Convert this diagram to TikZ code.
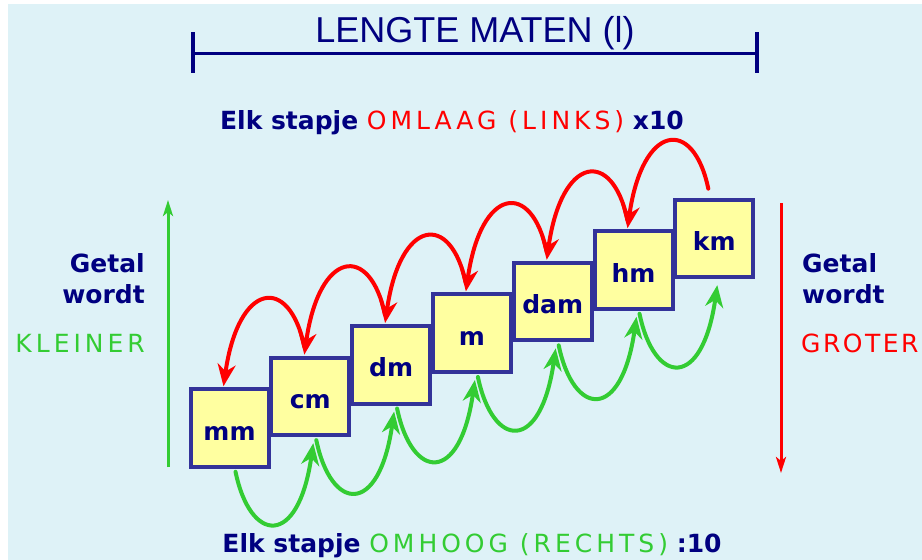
\documentclass[tikz,border=0pt]{standalone}
\usepackage{fontspec}
\setmainfont{DejaVu Sans}
\newfontfamily\spacedfont{DejaVu Sans}[LetterSpace=16]
\newfontfamily\narrowspaced{DejaVu Sans}[LetterSpace=10]
\newfontfamily\titlefont{Liberation Sans}
\usetikzlibrary{arrows.meta,calc}
\definecolor{bgblue}{HTML}{DEF2F7}
\definecolor{boxfill}{HTML}{FFFFA0}
\definecolor{boxline}{HTML}{333399}
\definecolor{navy}{HTML}{000080}
\definecolor{myred}{HTML}{FF0000}
\definecolor{mygreen}{HTML}{33CC33}
\begin{document}
\begin{tikzpicture}[x=1pt,y=-1pt,
  unitbox/.style={draw=boxline, line width=4pt, fill=boxfill, minimum width=78pt,
    minimum height=77.5pt, inner sep=0pt, text=navy,
    font=\fontsize{25}{25}\selectfont\bfseries, text height=24pt, text depth=0pt},
  redarr/.style={draw=myred, line width=4pt, line cap=round,
    -{Stealth[length=22pt,width=18pt,inset=7pt]}},
  greenarr/.style={draw=mygreen, line width=4pt, line cap=round,
    -{Stealth[length=22pt,width=18pt,inset=7pt]}},
  vred/.style={draw=myred, line width=3pt, -{Stealth[length=16pt,width=10pt,inset=4pt]}},
  vgreen/.style={draw=mygreen, line width=3pt, -{Stealth[length=16pt,width=10pt,inset=4pt]}},
  dimline/.style={draw=navy, line width=3pt},
  dimtick/.style={draw=navy, line width=4pt},
  bluetxt/.style={text=navy, font=\fontsize{25}{25}\selectfont\bfseries, inner sep=0pt},
  titletxt/.style={text=navy, font=\fontsize{36}{36}\selectfont\titlefont, inner sep=0pt},
  linetxt/.style={font=\fontsize{25}{25}\selectfont, inner sep=0pt}
]
\useasboundingbox (0,0) rectangle (922,560);
\fill[white] (0,0) rectangle (922,560);
\fill[bgblue] (8,4) rectangle (922,560);

% title with dimension line
\node[titletxt, anchor=base] (title) at (475,42) {LENGTE MATEN (l)};
\coordinate (dl) at (193,53);
\coordinate (dr) at (757,53);
\coordinate (dlt) at (193,32);
\coordinate (dlb) at (193,73);
\coordinate (drt) at (757,32);
\coordinate (drb) at (757,73);
\draw[dimline] (dl) -- (dr);
\draw[dimtick] (dlt) -- (dlb);
\draw[dimtick] (drt) -- (drb);

% top and bottom lines
\node[linetxt, anchor=base] (toptxt) at (452,129)
  {\textcolor{navy}{\bfseries Elk stapje }\textcolor{myred}{\spacedfont OMLAAG (LINKS)}\textcolor{navy}{\bfseries{} x10}};
\node[linetxt, anchor=base] (bottxt) at (472,552)
  {\textcolor{navy}{\bfseries Elk stapje }\textcolor{mygreen}{\spacedfont OMHOOG (RECHTS)}\textcolor{navy}{\bfseries{} :10}};

% side texts
\node[bluetxt, anchor=base east] (lg) at (145,272) {Getal};
\node[bluetxt, anchor=base east] (lw) at (145,303) {wordt};
\node[linetxt, anchor=base east, text=mygreen] (lk) at (145,352) {\spacedfont KLEINER};
\node[bluetxt, anchor=base west] (rg) at (802,272) {Getal};
\node[bluetxt, anchor=base west] (rw) at (802,303) {wordt};
\node[linetxt, anchor=base west, text=myred] (rk) at (801,352) {\narrowspaced GROTER};

% vertical arrows
\coordinate (vg1) at (168,467);
\coordinate (vg2) at (168,200);
\draw[vgreen] (vg1) -- (vg2);
\coordinate (vr1) at (781,203);
\coordinate (vr2) at (781,473);
\draw[vred] (vr1) -- (vr2);

% boxes
\foreach \n [count=\i from 0] in {mm,cm,dm,m,dam,hm,km}
  \node[unitbox] (\n) at ({229.5+80.8*\i},{428-31.6*\i}) {\n};

% red arrows (down / left)
\foreach \a/\b in {km/hm,hm/dam,dam/m,m/dm,dm/cm,cm/mm}
  \draw[redarr] ($(\a.north)+(-6,-9)$) .. controls +(-15,-72) and +(15,-105) .. ($(\b.north)+(-6,-1)$);

% green arrows (up / right)
\foreach \a/\b in {mm/cm,cm/dm,dm/m,m/dam,dam/hm,hm/km}
  \draw[greenarr] ($(\a.south)+(6,3)$) .. controls +(15,72) and +(-15,105) .. ($(\b.south)+(3,6)$);
\end{tikzpicture}
\end{document}
